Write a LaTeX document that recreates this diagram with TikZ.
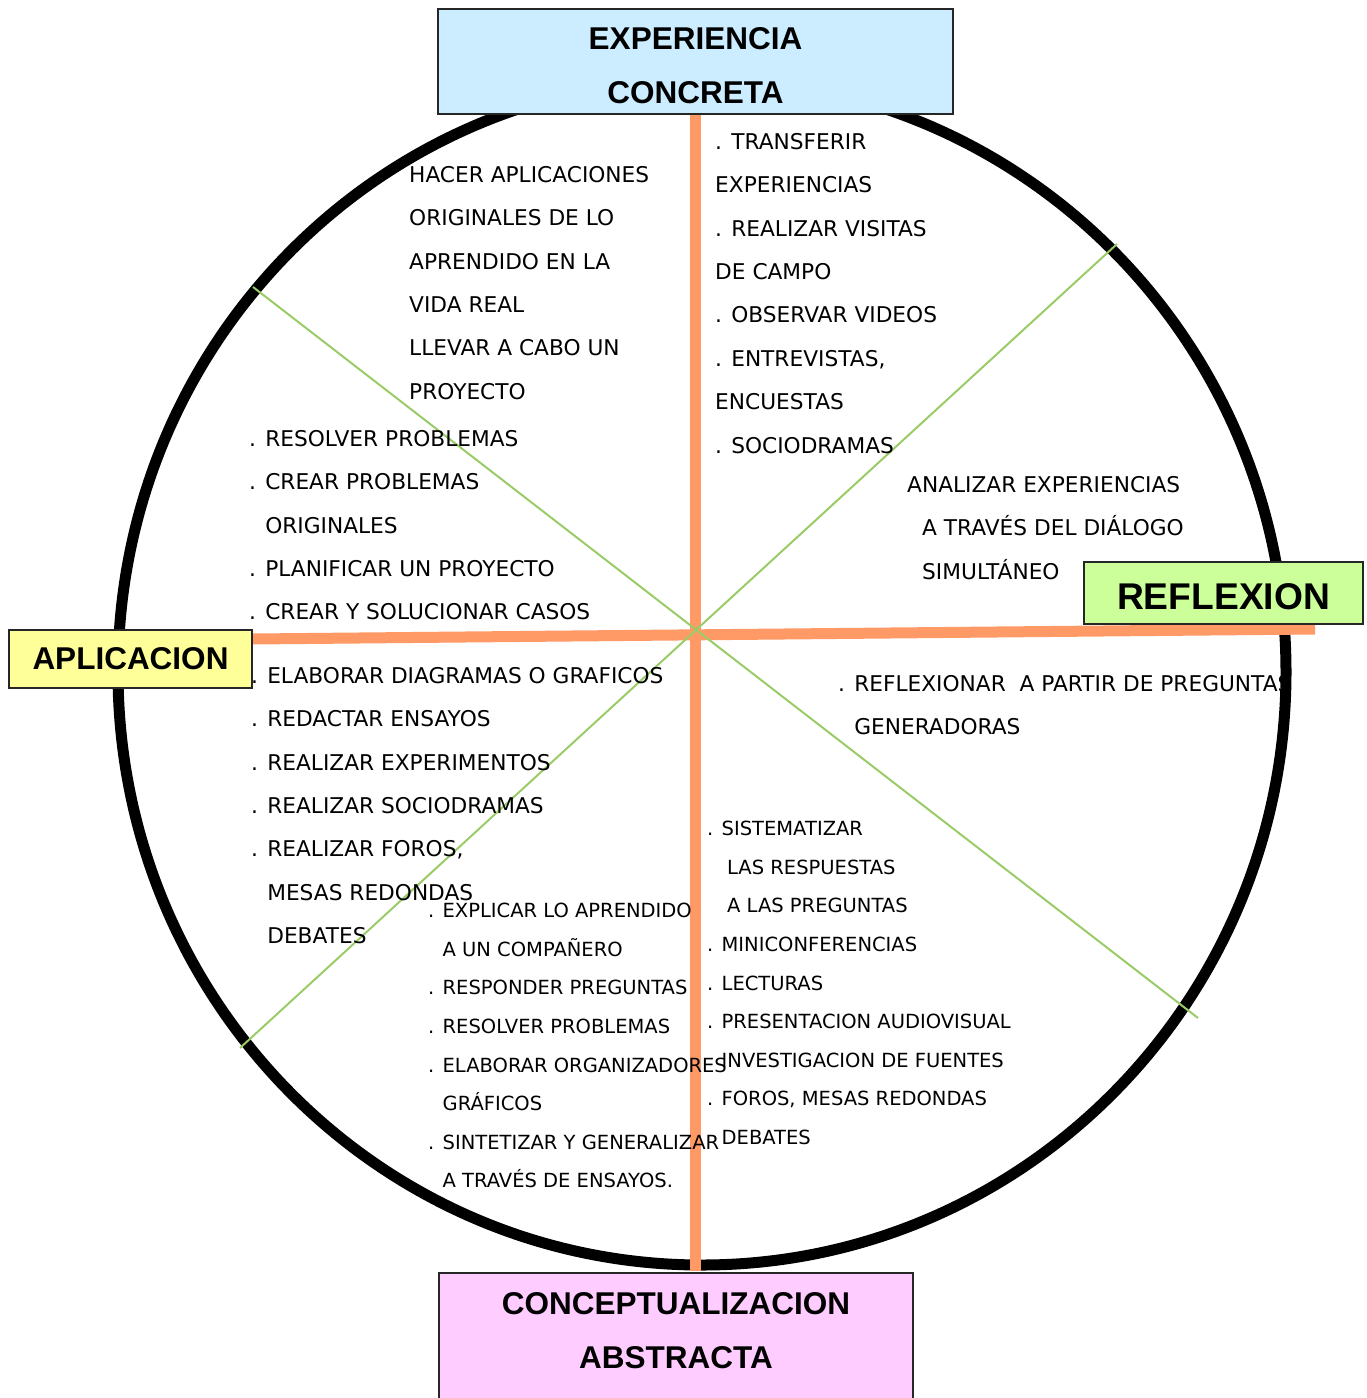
\documentclass[tikz,border=0pt]{standalone}
\usepackage{fontspec}
\setmainfont{DejaVu Sans}
\newfontfamily\titlefont{Liberation Sans}
\usepackage{tikz}

\definecolor{expblue}{RGB}{204,236,255}
\definecolor{aplyellow}{RGB}{255,255,153}
\definecolor{refgreen}{RGB}{204,255,153}
\definecolor{concpink}{RGB}{255,204,255}
\definecolor{ejeorange}{RGB}{255,153,102}
\definecolor{diaggreen}{RGB}{153,204,102}

\tikzset{
	titlebox/.style={rectangle, draw=black!85, line width=1.5, inner sep=0, align=center, font=\titlefont\bfseries\fontsize{31.5}{54}\selectfont},
	ejeline/.style={draw=ejeorange, line width=11},
	diagline/.style={draw=diaggreen, line width=2},
	bigtext/.style={anchor=north west, inner sep=0, align=left, font=\fontsize{21.7}{43.4}\selectfont},
	smalltext/.style={anchor=north west, inner sep=0, align=left, font=\fontsize{19.5}{38.6}\selectfont}
}

\begin{document}
\begin{tikzpicture}[x=1pt, y=-1pt]
		\useasboundingbox (0,0) rectangle (1367,1398);
		\clip (0,0) rectangle (1367,1398);
		\draw[line width=11] (702,672) ellipse [x radius=584, y radius=593];
		\coordinate (ejeN) at (695,115);
		\coordinate (ejeS) at (695,1271);
		\coordinate (ejeO) at (252,639);
		\coordinate (ejeE) at (1315,629);
		\coordinate (diagNO) at (253,287);
		\coordinate (diagSE) at (1198,1018);
		\coordinate (diagNE) at (1117,244);
		\coordinate (diagSO) at (240,1048);
		\draw[ejeline] (ejeN) -- (ejeS);
		\draw[ejeline] (ejeO) -- (ejeE);
		\draw[diagline] (diagNO) -- (diagSE);
		\draw[diagline] (diagNE) -- (diagSO);
		\node at (695.5,61.5) [titlebox, fill=expblue, minimum width=515, minimum height=105] (exp) {\rule{0pt}{30pt}EXPERIENCIA\\CONCRETA};
		\node at (130.5,659) [titlebox, fill=aplyellow, minimum width=243, minimum height=58] (apl) {APLICACION};
		\node at (1223.5,593) [titlebox, fill=refgreen, minimum width=279, minimum height=62, text height=33, font=\titlefont\bfseries\fontsize{37.2}{44}\selectfont] (ref) {REFLEXION};
		\draw[line width=1.5, draw=black!85, fill=concpink] (439,1273) rectangle (913,1410);
		\node at (676,1330.5) [titlebox, draw=none] (conc) {CONCEPTUALIZACION\\ABSTRACTA};
		\node at (409,166) [bigtext] (hacer) {HACER APLICACIONES\\ORIGINALES DE LO\\APRENDIDO EN LA\\VIDA REAL\\LLEVAR A CABO UN\\PROYECTO};
		\node at (249,430) [bigtext] (resolver) {. RESOLVER PROBLEMAS\\. CREAR PROBLEMAS\\\hphantom{. }ORIGINALES\\. PLANIFICAR UN PROYECTO\\. CREAR Y SOLUCIONAR CASOS};
		\node at (251,667) [bigtext] (elaborar) {. ELABORAR DIAGRAMAS O GRAFICOS\\. REDACTAR ENSAYOS\\. REALIZAR EXPERIMENTOS\\. REALIZAR SOCIODRAMAS\\. REALIZAR FOROS,\\\hphantom{. }MESAS REDONDAS\\\hphantom{. }DEBATES};
		\node at (715,133) [bigtext] (transferir) {. TRANSFERIR\\EXPERIENCIAS\\. REALIZAR VISITAS\\DE CAMPO\\. OBSERVAR VIDEOS\\. ENTREVISTAS,\\ENCUESTAS\\. SOCIODRAMAS};
		\node at (907,476) [bigtext] (analizar) {ANALIZAR EXPERIENCIAS\\\hspace*{15pt}A TRAVÉS DEL DIÁLOGO\\\hspace*{15pt}SIMULTÁNEO};
		\node at (838,675) [bigtext] (reflexionar) {. REFLEXIONAR\ \ A PARTIR DE PREGUNTAS\\\hphantom{. }GENERADORAS};
		\node at (428,903) [smalltext] (explicar) {. EXPLICAR LO APRENDIDO\\\hphantom{. }A UN COMPAÑERO\\. RESPONDER PREGUNTAS\\. RESOLVER PROBLEMAS\\. ELABORAR ORGANIZADORES\\\hphantom{. }GRÁFICOS\\. SINTETIZAR Y GENERALIZAR\\\hphantom{. }A TRAVÉS DE ENSAYOS.};
		\node at (707,821) [smalltext] (sistematizar) {. SISTEMATIZAR\\\hspace*{20pt}LAS RESPUESTAS\\\hspace*{20pt}A LAS PREGUNTAS\\. MINICONFERENCIAS\\. LECTURAS\\. PRESENTACION AUDIOVISUAL\\\hphantom{. }INVESTIGACION DE FUENTES\\. FOROS, MESAS REDONDAS\\\hphantom{. }DEBATES};
	\end{tikzpicture}
\end{document}
